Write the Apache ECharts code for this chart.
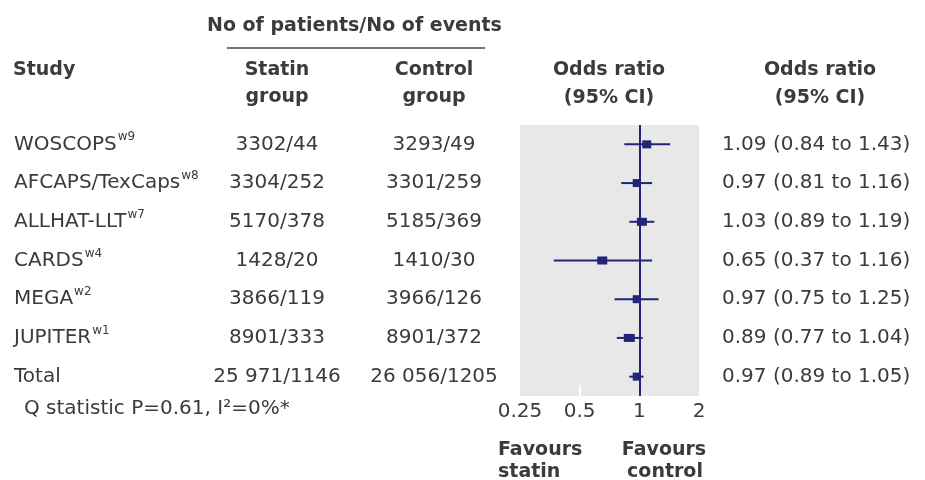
<!DOCTYPE html>
<html>
<head>
<meta charset="utf-8">
<script src="https://cdn.jsdelivr.net/npm/echarts@6/dist/echarts.min.js"></script>
<style>html,body{margin:0;padding:0;background:#fff;}#chart{width:925px;height:480px;}</style>
</head>
<body>
<div id="chart"></div>
<script>
// ---- data ----
const studies = ['WOSCOPS', 'AFCAPS/TexCaps', 'ALLHAT-LLT', 'CARDS', 'MEGA', 'JUPITER', 'Total'];
const refs = ['w9', 'w8', 'w7', 'w4', 'w2', 'w1', ''];
const statinPatients = [3302, 3304, 5170, 1428, 3866, 8901, 25971];
const statinEvents = [44, 252, 378, 20, 119, 333, 1146];
const controlPatients = [3293, 3301, 5185, 1410, 3966, 8901, 26056];
const controlEvents = [49, 259, 369, 30, 126, 372, 1205];
const oddsRatio = [1.09, 0.97, 1.03, 0.65, 0.97, 0.89, 0.97];
const ciLow = [0.84, 0.81, 0.89, 0.37, 0.75, 0.77, 0.89];
const ciHigh = [1.43, 1.16, 1.19, 1.16, 1.25, 1.04, 1.05];
const xTicks = [0.25, 0.5, 1, 2];
const heterogeneity = 'Q statistic P=0.61, I\u00B2=0%*';

// ---- style ----
const NAVY = '#23237a';
const TXT = '#3b3b3b';
const FONT = 'DejaVu Sans';
const boxWidths = [9, 8, 10, 10, 8, 11, 8];
const boxHeight = 8;

const fmtN = n => n >= 10000 ? String(n).replace(/(\d+)(\d{3})$/, '$1 $2') : String(n);
const cats = studies.map((s, i) => String(i));

const chart = echarts.init(document.getElementById('chart'), null, {renderer: 'canvas'});

const baseY = {
  type: 'category', data: cats, inverse: true,
  axisLine: {show: false}, axisTick: {show: false}, splitLine: {show: false}
};
const lblBase = {interval: 0, color: TXT, fontFamily: FONT, fontSize: 20};

const option = {
  backgroundColor: '#fff',
  animation: false,
  grid: {left: 520, right: 226, top: 125, height: 271, show: true, backgroundColor: '#e8e8e8', borderWidth: 0},
  xAxis: {
    type: 'log', logBase: 2, min: xTicks[0], max: xTicks[xTicks.length - 1],
    axisLine: {show: false}, splitLine: {show: false},
    axisTick: {show: true, inside: true, length: 11, lineStyle: {color: '#ffffff', width: 2}, customValues: [0.5]},
    axisLabel: {margin: 6, color: TXT, fontFamily: FONT, fontSize: 20,
      formatter: v => String(+(+v).toFixed(2))}
  },
  yAxis: [
    Object.assign({}, baseY, {position: 'left', axisLabel: Object.assign({}, lblBase, {
      align: 'left', margin: 506,
      formatter: (v) => { const i = +v; return '{n|' + studies[i] + '}' + (refs[i] ? '{s|' + refs[i] + '}' : ''); },
      rich: {
        n: {color: TXT, fontFamily: FONT, fontSize: 20, lineHeight: 26},
        s: {color: TXT, fontFamily: FONT, fontSize: 12, lineHeight: 12, verticalAlign: 'top', padding: [0, 0, 0, 1]}
      }
    })}),
    Object.assign({}, baseY, {position: 'left', axisLabel: Object.assign({}, lblBase, {
      align: 'center', margin: 243,
      formatter: (v) => { const i = +v; return fmtN(statinPatients[i]) + '/' + statinEvents[i]; }
    })}),
    Object.assign({}, baseY, {position: 'left', axisLabel: Object.assign({}, lblBase, {
      align: 'center', margin: 86,
      formatter: (v) => { const i = +v; return fmtN(controlPatients[i]) + '/' + controlEvents[i]; }
    })}),
    Object.assign({}, baseY, {position: 'right', axisLabel: Object.assign({}, lblBase, {
      align: 'left', margin: 23,
      formatter: (v) => { const i = +v; return oddsRatio[i].toFixed(2) + ' (' + ciLow[i].toFixed(2) + ' to ' + ciHigh[i].toFixed(2) + ')'; }
    })})
  ],
  series: [{
    type: 'custom',
    xAxisIndex: 0, yAxisIndex: 0,
    encode: {x: [1, 2, 3], y: 0},
    data: studies.map((s, i) => [i, oddsRatio[i], ciLow[i], ciHigh[i]]),
    renderItem: (params, api) => {
      const row = api.value(0);
      const p = api.coord([api.value(1), row]);
      const l = api.coord([api.value(2), row]);
      const h = api.coord([api.value(3), row]);
      const w = boxWidths[params.dataIndex];
      return {type: 'group', children: [
        {type: 'line', shape: {x1: l[0], y1: l[1], x2: h[0], y2: h[1]}, style: {stroke: NAVY, lineWidth: 2}},
        {type: 'rect', shape: {x: p[0] - w / 2, y: p[1] - boxHeight / 2, width: w, height: boxHeight}, style: {fill: NAVY}}
      ]};
    },
    markLine: {
      silent: true, symbol: 'none', label: {show: false},
      lineStyle: {color: NAVY, width: 2, type: 'solid'},
      data: [{xAxis: 1}]
    },
    z: 3
  }],
  graphic: [
    {type: 'text', left: 207, top: 17, style: {text: 'No of patients/No of events', fill: TXT, font: 'bold 19px "DejaVu Sans"'}},
    {type: 'line', shape: {x1: 227, y1: 48, x2: 485, y2: 48}, style: {stroke: '#444', lineWidth: 1.5}},
    {type: 'text', x: 13, y: 70, style: {text: 'Study', fill: TXT, font: 'bold 19px "DejaVu Sans"', textAlign: 'left', textVerticalAlign: 'middle'}},
    {type: 'text', x: 277, y: 70, style: {text: 'Statin', fill: TXT, font: 'bold 19px "DejaVu Sans"', textAlign: 'center', textVerticalAlign: 'middle'}},
    {type: 'text', x: 277, y: 97, style: {text: 'group', fill: TXT, font: 'bold 19px "DejaVu Sans"', textAlign: 'center', textVerticalAlign: 'middle'}},
    {type: 'text', x: 434, y: 70, style: {text: 'Control', fill: TXT, font: 'bold 19px "DejaVu Sans"', textAlign: 'center', textVerticalAlign: 'middle'}},
    {type: 'text', x: 434, y: 97, style: {text: 'group', fill: TXT, font: 'bold 19px "DejaVu Sans"', textAlign: 'center', textVerticalAlign: 'middle'}},
    {type: 'text', x: 609, y: 70, style: {text: 'Odds ratio', fill: TXT, font: 'bold 19px "DejaVu Sans"', textAlign: 'center', textVerticalAlign: 'middle'}},
    {type: 'text', x: 609, y: 98, style: {text: '(95% CI)', fill: TXT, font: 'bold 19px "DejaVu Sans"', textAlign: 'center', textVerticalAlign: 'middle'}},
    {type: 'text', x: 820, y: 70, style: {text: 'Odds ratio', fill: TXT, font: 'bold 19px "DejaVu Sans"', textAlign: 'center', textVerticalAlign: 'middle'}},
    {type: 'text', x: 820, y: 98, style: {text: '(95% CI)', fill: TXT, font: 'bold 19px "DejaVu Sans"', textAlign: 'center', textVerticalAlign: 'middle'}},
    {type: 'text', x: 24, y: 409, style: {text: heterogeneity, fill: TXT, font: '20px "DejaVu Sans"', textAlign: 'left', textVerticalAlign: 'middle'}},
    {type: 'text', x: 498, y: 450, style: {text: 'Favours', fill: TXT, font: 'bold 19px "DejaVu Sans"', textAlign: 'left', textVerticalAlign: 'middle'}},
    {type: 'text', x: 498, y: 472, style: {text: 'statin', fill: TXT, font: 'bold 19px "DejaVu Sans"', textAlign: 'left', textVerticalAlign: 'middle'}},
    {type: 'text', x: 664, y: 450, style: {text: 'Favours', fill: TXT, font: 'bold 19px "DejaVu Sans"', textAlign: 'center', textVerticalAlign: 'middle'}},
    {type: 'text', x: 665, y: 472, style: {text: 'control', fill: TXT, font: 'bold 19px "DejaVu Sans"', textAlign: 'center', textVerticalAlign: 'middle'}}
  ]
};
chart.setOption(option);
</script>
</body>
</html>
